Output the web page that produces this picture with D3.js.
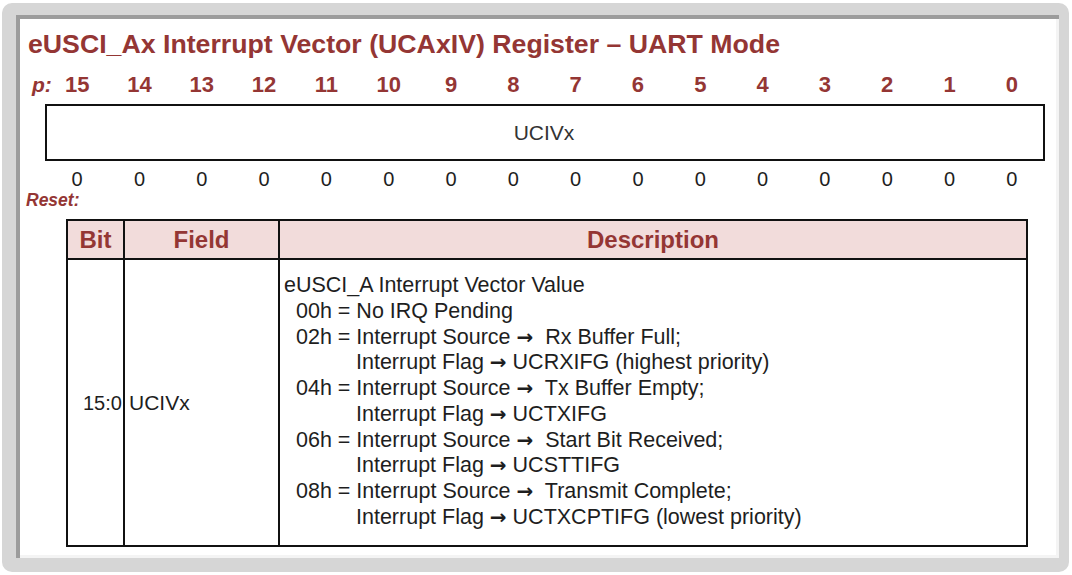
<!DOCTYPE html>
<html><head><meta charset="utf-8">
<script src="https://cdn.jsdelivr.net/npm/d3@7"></script>
<style>
html,body{margin:0;padding:0;background:#fff;}
svg{display:block;}
svg text{font-family:'Liberation Sans','Arimo',Arial,Helvetica,sans-serif;white-space:pre;}
svg tspan.arr{font-family:'DejaVu Sans',sans-serif;font-weight:bold;}
</style></head>
<body><svg id="c" width="1072" height="575"></svg>
<script>
const title = "eUSCI_Ax Interrupt Vector (UCAxIV) Register \u2013 UART Mode";
const bits = [15,14,13,12,11,10,9,8,7,6,5,4,3,2,1,0];
const resetValues = [0,0,0,0,0,0,0,0,0,0,0,0,0,0,0,0];
const fieldName = "UCIVx";
const tableHeaders = ["Bit","Field","Description"];
const rowBit = "15:0";
const rowField = "UCIVx";
const descLines = [
  {indent:0, t:"eUSCI_A Interrupt Vector Value"},
  {indent:1, t:"00h = No IRQ Pending"},
  {indent:1, t:"02h = Interrupt Source \u2192  Rx Buffer Full;"},
  {indent:2, t:"Interrupt Flag \u2192 UCRXIFG (highest priority)"},
  {indent:1, t:"04h = Interrupt Source \u2192  Tx Buffer Empty;"},
  {indent:2, t:"Interrupt Flag \u2192 UCTXIFG"},
  {indent:1, t:"06h = Interrupt Source \u2192  Start Bit Received;"},
  {indent:2, t:"Interrupt Flag \u2192 UCSTTIFG"},
  {indent:1, t:"08h = Interrupt Source \u2192  Transmit Complete;"},
  {indent:2, t:"Interrupt Flag \u2192 UCTXCPTIFG (lowest priority)"}
];

const red = "#943634";
const ink = "#1e1e1e";
const svg = d3.select("#c");

// frame
svg.append("rect").attr("x",2).attr("y",3).attr("width",1067).attr("height",569).attr("rx",10).attr("fill","#d6d6d6");
svg.append("rect").attr("x",16).attr("y",15).attr("width",1043).attr("height",543).attr("fill","#9c9c9c");
svg.append("rect").attr("x",20).attr("y",19).attr("width",1039).attr("height",539).attr("fill","#f4f4f4");
svg.append("rect").attr("x",20).attr("y",19).attr("width",1036).attr("height",536).attr("fill","#ffffff");

// title
svg.append("text").attr("x",28).attr("y",53).attr("fill",red)
  .attr("font-size",25).attr("font-weight","bold")
  .attr("textLength",752).attr("lengthAdjust","spacingAndGlyphs").text(title);

// bit scale
const x = d3.scaleBand().domain(bits).range([46,1043]).padding(0);
svg.append("text").attr("x",32).attr("y",92).attr("fill",red).attr("font-size",21)
  .attr("font-weight","bold").attr("font-style","italic").text("p:");
svg.selectAll("text.bit").data(bits).join("text").attr("class","bit")
  .attr("x",d=>x(d)+x.bandwidth()/2).attr("y",92).attr("text-anchor","middle")
  .attr("fill",red).attr("font-size",22).attr("font-weight","bold").text(d=>d);

// register box
svg.append("rect").attr("x",46).attr("y",105).attr("width",998).attr("height",55)
  .attr("fill","#fff").attr("stroke","#111").attr("stroke-width",2);
svg.append("text").attr("x",544).attr("y",140).attr("text-anchor","middle")
  .attr("fill","#333").attr("font-size",21).text(fieldName);

// reset values
svg.selectAll("text.rv").data(resetValues).join("text").attr("class","rv")
  .attr("x",(d,i)=>x(bits[i])+x.bandwidth()/2).attr("y",186).attr("text-anchor","middle")
  .attr("fill",ink).attr("font-size",20).text(d=>d);
svg.append("text").attr("x",26).attr("y",206).attr("fill",red).attr("font-size",17.5)
  .attr("font-weight","bold").attr("font-style","italic").text("Reset:");

// table
const colX = [67,124,279,1027];
const tTop = 220, hBot = 259, tBot = 546;
svg.append("rect").attr("x",colX[0]).attr("y",tTop).attr("width",colX[3]-colX[0]).attr("height",hBot-tTop).attr("fill","#f2dcdb");
svg.append("rect").attr("x",colX[0]).attr("y",tTop).attr("width",colX[3]-colX[0]).attr("height",tBot-tTop)
  .attr("fill","none").attr("stroke","#111").attr("stroke-width",2);
svg.append("line").attr("x1",colX[0]).attr("x2",colX[3]).attr("y1",hBot).attr("y2",hBot).attr("stroke","#111").attr("stroke-width",2);
[colX[1],colX[2]].forEach(cx=>svg.append("line").attr("x1",cx).attr("x2",cx).attr("y1",tTop).attr("y2",tBot).attr("stroke","#111").attr("stroke-width",2));
svg.selectAll("text.hd").data(tableHeaders).join("text").attr("class","hd")
  .attr("x",(d,i)=>(colX[i]+colX[i+1])/2).attr("y",248).attr("text-anchor","middle")
  .attr("fill",red).attr("font-size",24).attr("font-weight","bold").text(d=>d);

svg.append("text").attr("x",83).attr("y",410).attr("fill",ink).attr("font-size",20).text(rowBit);
svg.append("text").attr("x",129).attr("y",410).attr("fill",ink).attr("font-size",21).text(rowField);

const indentX = [284,296,356];
const ly = d3.scaleLinear().domain([0,descLines.length-1]).range([292,524]);
const dt = svg.selectAll("text.desc").data(descLines).join("text").attr("class","desc")
  .attr("x",d=>indentX[d.indent]).attr("y",(d,i)=>ly(i))
  .attr("fill",ink).attr("font-size",21.5);
dt.each(function(d){
  const parts = d.t.split("\u2192");
  const el = d3.select(this);
  parts.forEach((p,k)=>{
    el.append("tspan").text(p);
    if(k<parts.length-1) el.append("tspan").attr("class","arr").attr("font-size",20).text("\u2192");
  });
});
</script></body></html>
